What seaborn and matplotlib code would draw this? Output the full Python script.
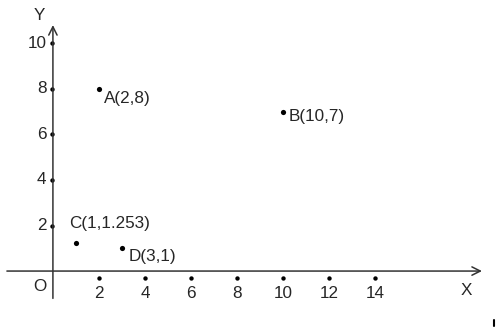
import matplotlib
matplotlib.use("Agg")
import matplotlib.pyplot as plt
import seaborn as sns
import pandas as pd

sns.set_style("white")
plt.rcParams['font.family'] = ['Liberation Sans', 'DejaVu Sans']

# data
point_names = ["A(2,8)", "B(10,7)", "C(1,1.253)", "D(3,1)"]
point_x = [2, 10, 1, 3]
point_y = [8, 7, 1.253, 1]
label_x = [2.22, 10.26, 0.7, 3.3]
label_y = [7.56, 6.77, 2.07, 0.66]

x_ticks = [2, 4, 6, 8, 10, 12, 14]
y_ticks = [2, 4, 6, 8, 10]

fig = plt.figure(figsize=(4.96, 3.28), dpi=100)
ax = fig.add_axes([0, 0, 1, 1])
ax.set_xlim(-2.3, 19.26)
ax.set_ylim(-2.5, 11.9)
ax.axis("off")

# axes with arrows
ax.annotate("", xy=(18.65, 0), xytext=(-2.0, 0),
            arrowprops=dict(arrowstyle="->", color="#333333", lw=1.1,
                            mutation_scale=15, shrinkA=0, shrinkB=0))
ax.annotate("", xy=(0, 10.8), xytext=(0, -1.2),
            arrowprops=dict(arrowstyle="->", color="#333333", lw=1.1,
                            mutation_scale=15, shrinkA=0, shrinkB=0))

fs = 12.3
tc = "#262626"
# tick dots and labels
dfx = pd.DataFrame({"x": x_ticks, "y": [-0.3] * len(x_ticks)})
sns.scatterplot(data=dfx, x="x", y="y", ax=ax, color="black", s=10, linewidth=0)
for t in x_ticks:
    ax.text(t, -0.97, str(t), ha="center", va="center", fontsize=fs, color=tc)

dfy = pd.DataFrame({"x": [-0.05] * len(y_ticks), "y": y_ticks})
sns.scatterplot(data=dfy, x="x", y="y", ax=ax, color="black", s=10, linewidth=0)
for t in y_ticks:
    ax.text(-0.28, t, str(t), ha="right", va="center", fontsize=fs, color=tc)

ax.text(-0.57, -0.66, "O", ha="center", va="center", fontsize=fs, color=tc)
ax.text(-0.6, 11.2, "Y", ha="center", va="center", fontsize=fs, color=tc)
ax.text(17.96, -0.84, "X", ha="center", va="center", fontsize=fs, color=tc)

# points
dfp = pd.DataFrame({"x": point_x, "y": point_y, "name": point_names})
sns.scatterplot(data=dfp, x="x", y="y", ax=ax, color="black", s=14, linewidth=0)
for n, lx, ly in zip(point_names, label_x, label_y):
    ax.text(lx, ly, n, ha="left", va="center", fontsize=fs, color=tc)

# tiny corner mark present in the reference
fig.add_artist(plt.Line2D([0.9965, 0.9965], [0.005, 0.025], color="black",
                          lw=1.5, transform=fig.transFigure))

ax.set_xlim(-2.3, 19.26)
ax.set_ylim(-2.5, 11.9)
fig.savefig("out.png", dpi=100)
